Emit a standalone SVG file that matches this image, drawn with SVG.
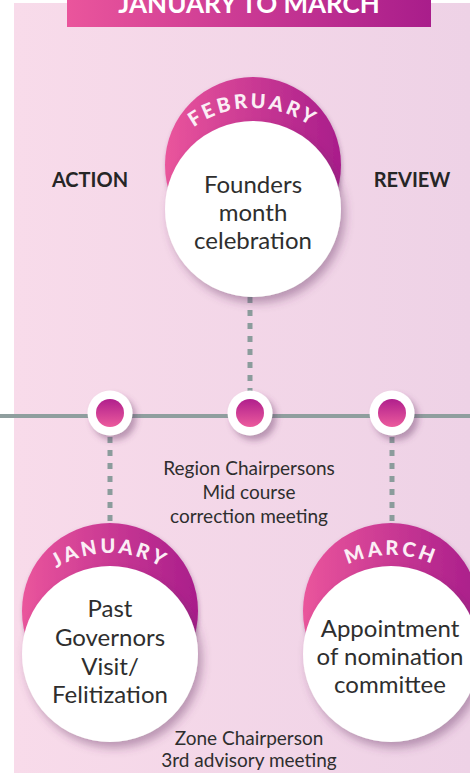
<svg xmlns="http://www.w3.org/2000/svg" width="470" height="773" viewBox="0 0 470 773">
<defs>
<linearGradient id="bg" x1="0" y1="0" x2="1" y2="0"><stop offset="0" stop-color="#f8dbea"/><stop offset="1" stop-color="#eed2e6"/></linearGradient>
<linearGradient id="pinkH" x1="0" y1="0" x2="1" y2="0"><stop offset="0" stop-color="#ea559c"/><stop offset="1" stop-color="#a91d8b"/></linearGradient>
<linearGradient id="pinkV" x1="0" y1="0" x2="0" y2="1"><stop offset="0" stop-color="#b01f8c"/><stop offset="1" stop-color="#ec5b9d"/></linearGradient>
<filter id="sh" x="-30%" y="-30%" width="160%" height="160%"><feDropShadow dx="4" dy="6" stdDeviation="5" flood-color="#5e2d5e" flood-opacity="0.4"/></filter>
<filter id="shs" x="-30%" y="-30%" width="160%" height="160%"><feDropShadow dx="1" dy="2" stdDeviation="2" flood-color="#5e2d5e" flood-opacity="0.35"/></filter>
<filter id="shd" x="-50%" y="-50%" width="200%" height="200%"><feDropShadow dx="4" dy="5" stdDeviation="3" flood-color="#5e2d5e" flood-opacity="0.4"/></filter>
<path id="arcF" d="M152,209 A101,101 0 0 1 354,209"/>
<path id="arcJ" d="M9,654 A101,101 0 0 1 211,654"/>
<path id="arcM" d="M292,654 A99,99 0 0 1 490,654"/>
</defs>
<style>
.side{font-family:Lato,"Liberation Sans",sans-serif;font-weight:700;font-size:20px;fill:#262626;text-anchor:middle}
.inner{font-family:Lato,"Liberation Sans",sans-serif;font-size:24px;fill:#2e2e2e;text-anchor:middle}
.note{font-family:Lato,"Liberation Sans",sans-serif;font-size:19px;fill:#2e2e2e;text-anchor:middle}
.month{font-family:Lato,"Liberation Sans",sans-serif;font-weight:900;font-size:20px;fill:#fbeef5;letter-spacing:3px}
.dash{stroke:#8b9c9c;stroke-width:5;stroke-dasharray:6 7;fill:none}
.white{fill:#ffffff}
.pink{fill:url(#pinkH)}
</style>
<rect x="0" y="0" width="470" height="773" fill="#ffffff"/>
<rect x="14" y="3" width="456" height="770" fill="url(#bg)"/>
<g id="title">
<rect x="67" y="0" width="364" height="27" fill="url(#pinkH)"/>
<text x="249" y="13" font-family="Lato,'Liberation Sans',sans-serif" font-weight="700" font-size="26" fill="#ffffff" text-anchor="middle">JANUARY TO MARCH</text>
</g>
<g id="connectors">
<line x1="0" y1="416" x2="470" y2="416" stroke="#8f9e9e" stroke-width="4"/>
<line class="dash" x1="250" y1="297" x2="250" y2="395"/>
<line class="dash" x1="110" y1="437" x2="110" y2="545"/>
<line class="dash" x1="392" y1="437" x2="392" y2="545"/>
</g>
<text class="side" x="90" y="187">ACTION</text>
<text class="side" x="412" y="187">REVIEW</text>
<g id="dot-jan">
<circle cx="110" cy="413" r="22.5" class="white" filter="url(#shd)"/>
<circle cx="110" cy="413" r="14" fill="url(#pinkV)"/>
</g>
<g id="dot-feb">
<circle cx="250" cy="413" r="22.5" class="white" filter="url(#shd)"/>
<circle cx="250" cy="413" r="14" fill="url(#pinkV)"/>
</g>
<g id="dot-mar">
<circle cx="392" cy="413" r="22.5" class="white" filter="url(#shd)"/>
<circle cx="392" cy="413" r="14" fill="url(#pinkV)"/>
</g>
<g id="node-feb">
<circle cx="253" cy="165" r="88" class="pink" filter="url(#shs)"/>
<circle cx="253" cy="209" r="88" class="white" filter="url(#sh)"/>
<text class="month"><textPath href="#arcF" startOffset="50%" text-anchor="middle">FEBRUARY</textPath></text>
<text class="inner" x="253" y="193">Founders</text>
<text class="inner" x="253" y="221">month</text>
<text class="inner" x="253" y="249">celebration</text>
</g>
<text class="note" x="249" y="475">Region Chairpersons</text>
<text class="note" x="249" y="499">Mid course</text>
<text class="note" x="249" y="523">correction meeting</text>
<g id="node-jan">
<circle cx="110" cy="611" r="88" class="pink" filter="url(#shs)"/>
<circle cx="110" cy="654" r="88" class="white" filter="url(#sh)"/>
<text class="month"><textPath href="#arcJ" startOffset="50%" text-anchor="middle">JANUARY</textPath></text>
<text class="inner" x="110" y="617">Past</text>
<text class="inner" x="110" y="646">Governors</text>
<text class="inner" x="110" y="675">Visit/</text>
<text class="inner" x="110" y="703">Felitization</text>
</g>
<g id="node-mar">
<circle cx="391" cy="611" r="88" class="pink" filter="url(#shs)"/>
<circle cx="391" cy="654" r="88" class="white" filter="url(#sh)"/>
<text class="month"><textPath href="#arcM" startOffset="50%" text-anchor="middle">MARCH</textPath></text>
<text class="inner" x="390" y="637">Appointment</text>
<text class="inner" x="390" y="665">of nomination</text>
<text class="inner" x="390" y="693">committee</text>
</g>
<text class="note" x="249" y="745">Zone Chairperson</text>
<text class="note" x="249" y="767">3rd advisory meeting</text>
</svg>
